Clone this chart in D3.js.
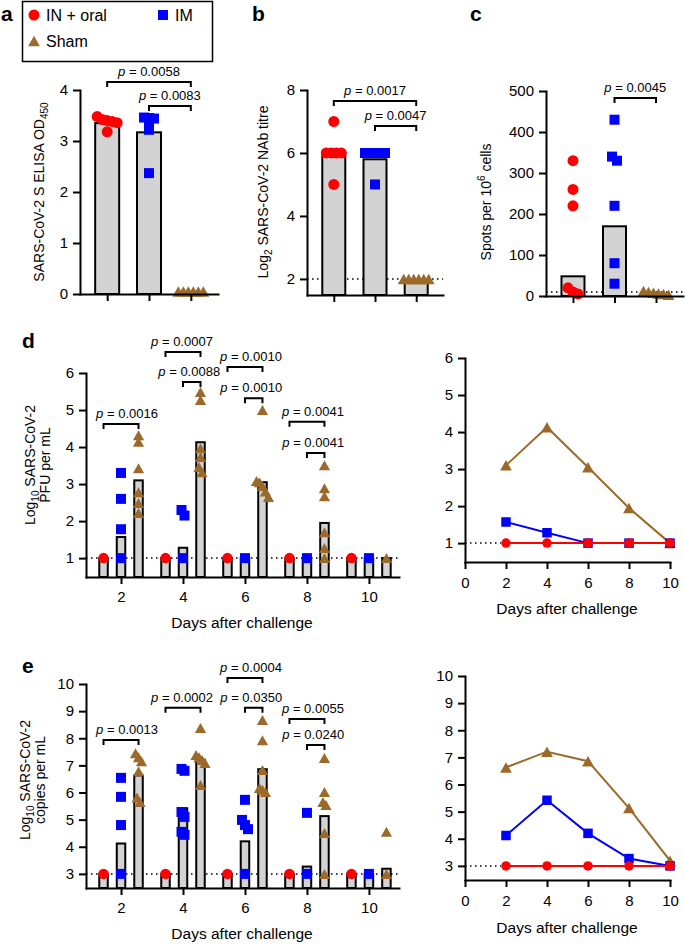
<!DOCTYPE html>
<html><head><meta charset="utf-8">
<script src="https://cdn.jsdelivr.net/npm/d3@7"></script>
<style>
body{margin:0;background:#fff;}
svg text{font-family:"Liberation Sans", Arial, Helvetica, sans-serif;fill:#000;}
</style></head><body>
<svg id="chart" width="685" height="945"></svg>
<script>
// ================= DATA =================
const groups = ["IN + oral", "IM", "Sham"];
const days = [2, 4, 6, 8, 10];

// Panel a: SARS-CoV-2 S ELISA OD450
const aTicks = [0, 1, 2, 3, 4];
const aBars = [3.35, 3.17, 0];
const aRed = [3.48, 3.42, 3.40, 3.38, 3.36, 3.18];
const aBlue = [3.46, 3.45, 3.44, 3.32, 3.22, 2.37];
const aSham = [0.05, 0.05, 0.05, 0.05, 0.05, 0.05];
const aBrackets = [{from: 0, to: 2, level: 4.157, p: "0.0058"}, {from: 1, to: 2, level: 3.686, p: "0.0083"}];

// Panel b: Log2 NAb titre
const bTicks = [2, 4, 6, 8];
const bBars = [6, 5.8, 1.9];
const bRed = [7, 6, 6, 6, 6, 5];
const bBlue = [6, 6, 6, 6, 6, 5];
const bSham = [2, 2, 2, 2, 2, 2];
const bLimit = 2;
const bBrackets = [{from: 0, to: 2, level: 7.65, p: "0.0017"}, {from: 1, to: 2, level: 6.86, p: "0.0047"}];

// Panel c: Spots per 10^6 cells
const cTicks = [0, 100, 200, 300, 400, 500];
const cBars = [48, 170, 0];
const cRed = [330, 260, 220, 20, 10, 5];
const cBlue = [430, 340, 330, 220, 80, 30];
const cSham = [12, 10, 8, 6, 5, 3];
const cLimit = 10;
const cBrackets = [{from: 1, to: 2, level: 483, p: "0.0045"}];

// Panel d: Log10 PFU per mL
const dTicks = [1, 2, 3, 4, 5, 6];
const dLimit = 1;
const dRedBars = [1, 1, 1, 1, 1];
const dBlueBars = [1.57, 1.28, 1, 1, 1];
const dShamBars = [3.1, 4.13, 3.05, 1.95, 1];
const dRedPts = [
  [1,1,1,1,1,1],[1,1,1,1,1,1],[1,1,1,1,1,1],[1,1,1,1,1,1],[1,1,1,1,1,1]];
const dBluePts = [
  [3.3, 2.6, 1.78, 1, 1, 1],
  [2.3, 2.15, 1, 1, 1, 1],
  [1, 1, 1, 1, 1, 1],
  [1, 1, 1, 1, 1, 1],
  [1, 1, 1, 1, 1, 1]];
const dShamPts = [
  [4.32, 4.14, 3.43, 2.78, 2.49, 2.22],
  [5.49, 5.27, 3.97, 3.73, 3.46, 3.32],
  [5.0, 3.08, 3.05, 2.95, 2.8, 2.65],
  [3.51, 2.89, 2.67, 1.7, 1.27, 1.0],
  [1, 1, 1, 1, 1, 1]];
const dBrackets = [
  {day: 2, from: 0, to: 2, level: 4.62, p: "0.0016"},
  {day: 4, from: 0, to: 2, level: 6.57, p: "0.0007"},
  {day: 4, from: 1, to: 2, level: 5.76, p: "0.0088"},
  {day: 6, from: 0, to: 2, level: 6.16, p: "0.0010"},
  {day: 6, from: 1, to: 2, level: 5.32, p: "0.0010"},
  {day: 8, from: 0, to: 2, level: 4.68, p: "0.0041"},
  {day: 8, from: 1, to: 2, level: 3.84, p: "0.0041"}];

// Panel e: Log10 copies per mL
const eTicks = [3, 4, 5, 6, 7, 8, 9, 10];
const eLimit = 3;
const eRedBars = [3, 3, 3, 3, 3];
const eBlueBars = [4.12, 5.42, 4.2, 3.27, 3.0];
const eShamBars = [6.63, 7.21, 6.86, 5.13, 3.19];
const eRedPts = [
  [3,3,3,3,3,3],[3,3,3,3,3,3],[3,3,3,3,3,3],[3,3,3,3,3,3],[3,3,3,3,3,3]];
const eBluePts = [
  [6.54, 5.84, 4.8, 3, 3, 3],
  [6.87, 6.8, 5.28, 5.1, 4.55, 4.44],
  [5.73, 4.99, 4.8, 4.65, 3, 3],
  [5.25, 3, 3, 3, 3, 3],
  [3, 3, 3, 3, 3, 3]];
const eShamPts = [
  [7.45, 7.3, 7.15, 6.78, 5.82, 5.65],
  [8.38, 7.38, 7.3, 7.2, 7.09, 6.28],
  [8.67, 7.93, 6.83, 6.17, 6.1, 6.02],
  [7.27, 6.02, 5.65, 5.54, 4.51, 3.0],
  [4.55, 3, 3, 3, 3, 3]];
const eBrackets = [
  {day: 2, from: 0, to: 2, level: 7.94, p: "0.0013"},
  {day: 4, from: 0, to: 2, level: 9.12, p: "0.0002"},
  {day: 6, from: 0, to: 2, level: 10.22, p: "0.0004"},
  {day: 6, from: 1, to: 2, level: 9.12, p: "0.0350"},
  {day: 8, from: 0, to: 2, level: 8.71, p: "0.0055"},
  {day: 8, from: 1, to: 2, level: 7.75, p: "0.0240"}];

const lineTicksX = [0, 2, 4, 6, 8, 10];

// ================= STYLE =================
const FONT = '"Liberation Sans", Arial, Helvetica, sans-serif';
const COLORS = ["#ff0000", "#0000ff", "#9b6a2b"];
const BAR_FILL = "#d3d3d3";
const TICK_FS = 15, TITLE_FS = 14, XTITLE_FS = 15.5, P_FS = 13;
const svg = d3.select("#chart");

function markerPath(gi, s) {
  if (gi === 0) { const r = s / 2; return `M${-r},0a${r},${r} 0 1,0 ${2*r},0a${r},${r} 0 1,0 ${-2*r},0Z`; }
  if (gi === 1) { const h = s / 2; return `M${-h},${-h}H${h}V${h}H${-h}Z`; }
  const w = s * 0.56, hh = s * 0.5;
  return `M0,${-hh}L${w},${hh}L${-w},${hh}Z`;
}
const SIZES = [11, 10, 10.5];

function styleAxis(ax) {
  ax.attr("font-family", FONT).attr("font-size", TICK_FS);
  ax.select(".domain").attr("stroke", "#000").attr("stroke-width", 2).attr("stroke-linecap", "square");
  ax.selectAll(".tick line").attr("stroke", "#000").attr("stroke-width", 2);
  ax.selectAll(".tick text").attr("fill", "#000");
}
function yAxis(g, y, x, ticks) {
  const ax = g.append("g").attr("transform", `translate(${x},0)`)
    .call(d3.axisLeft(y).tickValues(ticks).tickFormat(d3.format("d"))
      .tickSize(7).tickSizeOuter(0).tickPadding(5));
  styleAxis(ax);
}
function xAxis(g, x, yPos, ticks, labels, pad) {
  const ax = g.append("g").attr("transform", `translate(0,${yPos})`)
    .call(d3.axisBottom(x).tickValues(ticks).tickSize(7).tickSizeOuter(0).tickPadding(pad || 7)
      .tickFormat(labels ? d3.format("d") : () => ""));
  styleAxis(ax);
}
function spread(vals, y, tol, spacing, collapse) {
  let arr = collapse ? Array.from(new Set(vals)) : vals.slice();
  arr = arr.map(v => ({v, py: y(v)})).sort((a, b) => a.py - b.py);
  const out = []; let cl = [];
  const flush = () => { cl.forEach((p, i) => { p.dx = (i - (cl.length - 1) / 2) * spacing; out.push(p); }); cl = []; };
  arr.forEach(p => { if (cl.length && p.py - cl[cl.length - 1].py > tol) flush(); cl.push(p); });
  flush();
  return out;
}
function drawPoints(g, cx, vals, y, gi, size, tol, spacing, collapse) {
  spread(vals, y, tol, spacing, collapse).forEach(p => {
    g.append("path").attr("d", markerPath(gi, size))
      .attr("transform", `translate(${cx + p.dx},${p.py})`)
      .attr("fill", COLORS[gi]);
  });
}
function pLabel(g, x, y, p) {
  const t = g.append("text").attr("x", x).attr("y", y).attr("text-anchor", "middle")
    .attr("font-size", P_FS);
  t.append("tspan").attr("font-style", "italic").text("p");
  t.append("tspan").text(" = " + p);
}
function bracket(g, x1, x2, yPx, p, labelShift) {
  g.append("path").attr("d", `M${x1},${yPx + 5}V${yPx}H${x2}V${yPx + 5}`)
    .attr("fill", "none").attr("stroke", "#000").attr("stroke-width", 2);
  pLabel(g, (x1 + x2) / 2 + (labelShift || 0), yPx - 6, p);
}
function dotted(g, x1, x2, yPx) {
  g.append("line").attr("x1", x1).attr("x2", x2).attr("y1", yPx).attr("y2", yPx)
    .attr("stroke", "#000").attr("stroke-width", 1.5).attr("stroke-dasharray", "1.5,3.5");
}
function yTitle(g, x, yc, parts) {
  const t = g.append("text").attr("transform", `translate(${x},${yc}) rotate(-90)`)
    .attr("text-anchor", "middle").attr("font-size", TITLE_FS);
  parts.forEach(pt => {
    const ts = t.append("tspan").text(pt.t);
    if (pt.sub) ts.attr("font-size", 10).attr("dy", 4);
    if (pt.sup) ts.attr("font-size", 10).attr("dy", -6);
    if (pt.reset) ts.attr("dy", pt.reset);
  });
  return t;
}

// ================= PANELS a, b, c =================
function groupPanel(cfg) {
  const g = svg.append("g");
  const x = d3.scaleLinear().domain([-0.65, 2.65]).range(cfg.xr);
  const y = d3.scaleLinear().domain(cfg.yd).range(cfg.yr);
  const base = cfg.yr[0];
  if (cfg.limit != null) dotted(g, cfg.xr[0], cfg.xr[1], y(cfg.limit));
  cfg.bars.forEach((v, i) => {
    if (v <= cfg.yd[0]) return;
    g.append("rect").attr("x", x(i) - cfg.bw / 2).attr("y", y(v))
      .attr("width", cfg.bw).attr("height", base - y(v))
      .attr("fill", BAR_FILL).attr("stroke", "#000").attr("stroke-width", 2);
  });
  cfg.points.forEach((vals, gi) => drawPoints(g, x(gi), vals, y, gi, SIZES[gi], 5, 5, false));
  yAxis(g, y, cfg.xr[0], cfg.ticks);
  xAxis(g, x, base, [0, 1, 2], false);
  cfg.brackets.forEach(b => bracket(g, x(b.from), x(b.to), y(b.level), b.p));
  return g;
}

groupPanel({xr: [80, 218], yd: [0, 4], yr: [294, 90], ticks: aTicks, bars: aBars,
  points: [aRed, aBlue, aSham], bw: 24, brackets: aBrackets});
groupPanel({xr: [307, 443], yd: [1.49, 8], yr: [295, 90], ticks: bTicks, bars: bBars, limit: bLimit,
  points: [bRed, bBlue, bSham], bw: 23, brackets: bBrackets});
groupPanel({xr: [546, 683], yd: [0, 500], yr: [296, 91], ticks: cTicks, bars: cBars, limit: cLimit,
  points: [cRed, cBlue, cSham], bw: 23, brackets: cBrackets});

yTitle(svg, 44, 192, [{t: "SARS-CoV-2 S ELISA OD"}, {t: "450", sub: true}]);
yTitle(svg, 268, 192, [{t: "Log"}, {t: "2", sub: true}, {t: " SARS-CoV-2 NAb titre", reset: -4}]);
yTitle(svg, 491, 202, [{t: "Spots per 10"}, {t: "6", sup: true}, {t: " cells", reset: 6}]);

// Legend
const leg = svg.append("g");
leg.append("rect").attr("x", 22.5).attr("y", 1.5).attr("width", 190).attr("height", 60)
  .attr("fill", "none").attr("stroke", "#000").attr("stroke-width", 1.5);
[[34, 15, 46, 20.5], [163, 15, 175, 20.5], [34, 41, 46, 46.5]].forEach((pos, gi) => {
  leg.append("path").attr("d", markerPath(gi, SIZES[gi])).attr("transform", `translate(${pos[0]},${pos[1]})`)
    .attr("fill", COLORS[gi]);
  leg.append("text").attr("x", pos[2]).attr("y", pos[3]).attr("font-size", 16).text(groups[gi]);
});

// ================= PANELS d, e (left, grouped bars by day) =================
function dayPanel(cfg) {
  const g = svg.append("g");
  const x = d3.scaleLinear().domain([0.87, 10.97]).range([86, 399]);
  const y = d3.scaleLinear().domain(cfg.yd).range(cfg.yr);
  const base = cfg.yr[0];
  const off = [-17.5, 0, 17.5], bw = 8.5;
  dotted(g, 86, 399, y(cfg.limit));
  const barSets = [cfg.redBars, cfg.blueBars, cfg.shamBars];
  days.forEach((d, di) => {
    barSets.forEach((bars, gi) => {
      const v = bars[di];
      g.append("rect").attr("x", x(d) + off[gi] - bw / 2).attr("y", y(v))
        .attr("width", bw).attr("height", base - y(v))
        .attr("fill", BAR_FILL).attr("stroke", "#000").attr("stroke-width", 2);
    });
  });
  const ptSets = [cfg.redPts, cfg.bluePts, cfg.shamPts];
  days.forEach((d, di) => {
    ptSets.forEach((pts, gi) => drawPoints(g, x(d) + off[gi], pts[di], y, gi, [10.5, 10, 10][gi], 6, 3, true));
  });
  yAxis(g, y, 86, cfg.ticks);
  xAxis(g, x, base, days, true, 7);
  cfg.brackets.forEach(b => {
    const long = b.from === 0;
    // long brackets: label nudged right, except where a neighbouring day's label is close
    const shift = long ? (b.day === 4 ? -1 : 6) : -2.5;
    bracket(g, x(b.day) + off[b.from], x(b.day) + off[b.to], y(b.level), b.p, shift);
  });
  g.append("text").attr("x", 242).attr("y", cfg.titleY).attr("text-anchor", "middle")
    .attr("font-size", XTITLE_FS).text("Days after challenge");
}
dayPanel({yd: [0.49, 6], yr: [577, 373], ticks: dTicks, limit: dLimit,
  redBars: dRedBars, blueBars: dBlueBars, shamBars: dShamBars,
  redPts: dRedPts, bluePts: dBluePts, shamPts: dShamPts, brackets: dBrackets, titleY: 628});
dayPanel({yd: [2.48, 10], yr: [888, 684], ticks: eTicks, limit: eLimit,
  redBars: eRedBars, blueBars: eBlueBars, shamBars: eShamBars,
  redPts: eRedPts, bluePts: eBluePts, shamPts: eShamPts, brackets: eBrackets, titleY: 939});

yTitle(svg, 35, 465, [{t: "Log"}, {t: "10", sub: true}, {t: " SARS-CoV-2", reset: -4}]);
yTitle(svg, 50, 465, [{t: "PFU per mL"}]);
yTitle(svg, 30, 780, [{t: "Log"}, {t: "10", sub: true}, {t: " SARS-CoV-2", reset: -4}]);
yTitle(svg, 45, 780, [{t: "copies per mL"}]);

// ================= PANELS d, e (right, mean lines) =================
function linePanel(cfg) {
  const g = svg.append("g");
  const x = d3.scaleLinear().domain([0, 10]).range([465, 670]);
  const y = d3.scaleLinear().domain(cfg.yd).range(cfg.yr);
  dotted(g, x(0), x(2) - 5, y(cfg.limit));
  const line = d3.line().x((v, i) => x(days[i])).y(v => y(v));
  const series = [cfg.red, cfg.blue, cfg.sham];
  [2, 1, 0].forEach(gi => {
    g.append("path").attr("d", line(series[gi])).attr("fill", "none")
      .attr("stroke", COLORS[gi]).attr("stroke-width", 2);
    series[gi].forEach((v, i) => g.append("path").attr("d", markerPath(gi, [9.5, 9.5, 10.5][gi]))
      .attr("transform", `translate(${x(days[i])},${y(v)})`).attr("fill", COLORS[gi]));
  });
  yAxis(g, y, 465, cfg.ticks);
  xAxis(g, x, cfg.yr[0], lineTicksX, true, 8);
  g.append("text").attr("x", 567).attr("y", cfg.titleY).attr("text-anchor", "middle")
    .attr("font-size", XTITLE_FS).text("Days after challenge");
}
linePanel({yd: [0.49, 6], yr: [562, 358], ticks: dTicks, limit: dLimit,
  red: dRedBars, blue: dBlueBars, sham: dShamBars, titleY: 614});
linePanel({yd: [2.48, 10], yr: [880, 676], ticks: eTicks, limit: eLimit,
  red: eRedBars, blue: eBlueBars, sham: eShamBars, titleY: 933});

// ================= PANEL LETTERS =================
[["a", 1, 21], ["b", 252, 21], ["c", 470, 21], ["d", 22, 348], ["e", 22, 673]].forEach(l => {
  svg.append("text").attr("x", l[1]).attr("y", l[2]).attr("font-size", 21)
    .attr("font-weight", "bold").text(l[0]);
});
</script>
</body></html>
